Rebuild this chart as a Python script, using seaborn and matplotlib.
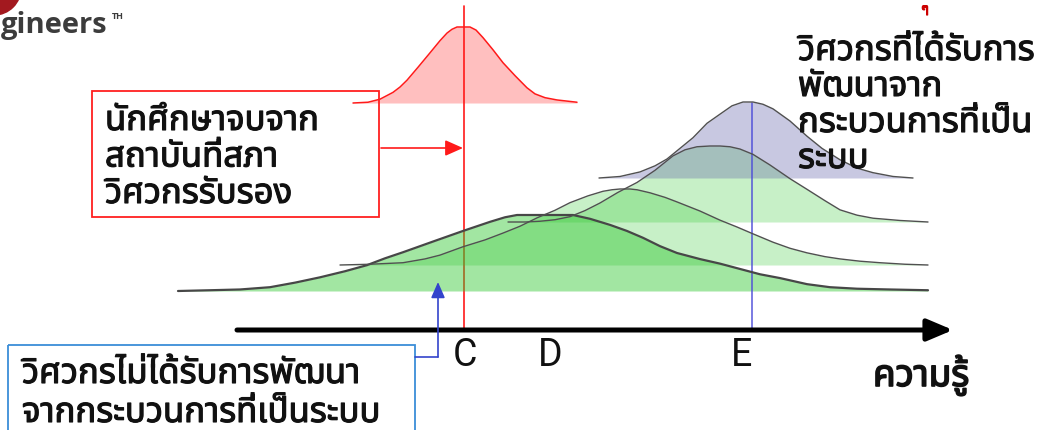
"""
Knowledge distribution diagram: graduates vs. engineers with / without
systematic development, drawn as stacked bell curves over a knowledge axis.
"""

import matplotlib
matplotlib.use("Agg")
import matplotlib.pyplot as plt
import matplotlib.patheffects as pe
import seaborn as sns
from matplotlib import font_manager
from matplotlib.ft2font import FT2Font
from matplotlib.patches import Rectangle, Circle

# ---------------------------------------------------------------- data
# knowledge position (x) and relative density (0..1)
grad_x = [353, 368, 380, 393, 400, 407, 418, 430, 440, 447, 452, 457, 463, 470,
          476, 483, 493, 503, 515, 527, 535, 545, 557, 577]
grad_density = [0.0, 0.01, 0.05, 0.14, 0.21, 0.30, 0.47, 0.66, 0.82, 0.92, 0.97,
                1.0, 1.0, 1.0, 0.96, 0.86, 0.70, 0.53, 0.36, 0.20, 0.12, 0.07,
                0.04, 0.01]

eng_a_x = [178, 210, 240, 270, 295, 320, 345, 367, 385, 403, 435, 463, 490, 505,
           517, 530, 545, 560, 573, 590, 610, 627, 643, 660, 677, 700, 720, 740,
           760, 780, 807, 830, 857, 890, 928]
eng_a_density = [0.0, 0.01, 0.02, 0.05, 0.11, 0.18, 0.26, 0.34, 0.43, 0.51, 0.66,
                 0.79, 0.91, 0.97, 1.0, 1.0, 1.0, 1.0, 1.0, 0.95, 0.87, 0.79,
                 0.70, 0.59, 0.50, 0.42, 0.36, 0.29, 0.22, 0.17, 0.09, 0.05,
                 0.03, 0.02, 0.01]

eng_b_x = [340, 370, 403, 425, 440, 463, 485, 503, 520, 537, 555, 570, 588, 603,
           612, 620, 630, 637, 650, 665, 677, 700, 720, 737, 753, 773, 790, 807,
           825, 840, 860, 880, 905, 928]
eng_b_density = [0.0, 0.01, 0.03, 0.08, 0.13, 0.24, 0.33, 0.42, 0.51, 0.62, 0.72,
                 0.82, 0.91, 0.97, 0.99, 1.0, 1.0, 0.99, 0.95, 0.89, 0.83, 0.71,
                 0.59, 0.50, 0.41, 0.30, 0.22, 0.16, 0.11, 0.08, 0.05, 0.03,
                 0.01, 0.0]

eng_c_x = [508, 525, 540, 555, 570, 585, 600, 618, 637, 655, 673, 685, 697, 710,
           720, 730, 740, 753, 770, 790, 807, 825, 840, 857, 873, 900, 928]
eng_c_density = [0.0, 0.0, 0.01, 0.03, 0.07, 0.15, 0.25, 0.39, 0.52, 0.68, 0.87,
                 0.95, 0.99, 1.0, 1.0, 0.99, 0.96, 0.89, 0.75, 0.57, 0.43, 0.28,
                 0.16, 0.09, 0.05, 0.02, 0.0]

eng_d_x = [599, 620, 640, 655, 667, 680, 693, 707, 720, 732, 743, 753, 763, 773,
           790, 807, 822, 840, 857, 873, 893, 913]
eng_d_density = [0.0, 0.02, 0.08, 0.16, 0.25, 0.39, 0.53, 0.72, 0.84, 0.95, 1.0,
                 1.0, 0.97, 0.91, 0.75, 0.55, 0.39, 0.24, 0.13, 0.07, 0.02, 0.0]

marker_labels = ["C", "D", "E"]
marker_x = [465, 550, 742]

axis_label = "ความรู้"
grad_text = ["นักศึกษาจบจาก", "สถาบันที่สภา", "วิศวกรรับรอง"]
developed_text = ["วิศวกรที่ได้รับการ", "พัฒนาจาก", "กระบวนการที่เป็น", "ระบบ"]
undeveloped_text = ["วิศวกรไม่ได้รับการพัฒนา", "จากกระบวนการที่เป็นระบบ"]


def pick_thai_font() -> str:
    """Return the first installed family that has Thai glyphs."""
    preferred = ["Noto Sans Thai", "Noto Sans Thai UI", "Loma", "Garuda",
                 "Sarabun", "Tahoma", "Leelawadee UI", "Norasi"]
    have = {}
    for f in font_manager.fontManager.ttflist:
        have.setdefault(f.name, f.fname)
    for name in preferred + sorted(have):
        path = have.get(name)
        if path is None:
            continue
        try:
            if 0x0E01 in FT2Font(path).get_charmap():
                return name
        except Exception:
            continue
    return "DejaVu Sans"


sns.set_theme(style="white")
thai_font = pick_thai_font()
plt.rcParams["font.family"] = [thai_font, "DejaVu Sans"]

fig = plt.figure(figsize=(10.42, 4.30), dpi=100)
ax = fig.add_axes([0, 0, 1, 1])
ax.set_xlim(0, 1042)
ax.set_ylim(430, 0)
ax.axis("off")

PEAK = 76  # px height of every bell
heavy = [pe.withStroke(linewidth=0.8, foreground="#111111")]
heavier = [pe.withStroke(linewidth=1.2, foreground="#111111")]


def ridge(xs, dens, base, fill, alpha, edge, lw, z):
    ys = [base - d * PEAK for d in dens]
    ax.fill_between(xs, ys, base, color=fill, alpha=alpha, lw=0, zorder=z)
    sns.lineplot(x=xs, y=ys, ax=ax, color=edge, lw=lw, zorder=z + 0.5,
                 sort=False, estimator=None, solid_joinstyle="round")


# graduates (red)
ridge(grad_x, grad_density, 103, "#ffbfbf", 1.0, "#ff1a1a", 1.1, 1)
ax.plot([464, 464], [6, 330], color="#ff1a1a", lw=1.2, zorder=1.7)

# engineers (green ridges + lavender top)
ridge(eng_a_x, eng_a_density, 291, "#32c832", 0.45, "#474747", 1.6, 2)
ridge(eng_b_x, eng_b_density, 265, "#32c832", 0.27, "#505050", 1.0, 2.1)
ridge(eng_c_x, eng_c_density, 222, "#32c832", 0.27, "#505050", 1.0, 2.2)
ridge(eng_d_x, eng_d_density, 178, "#6464aa", 0.35, "#505050", 1.0, 2.3)
ax.plot([752, 752], [103, 330], color="#4a4ad8", lw=1.2, alpha=0.85, zorder=2.4)

# knowledge axis
ax.annotate("", xy=(953, 330), xytext=(237, 330),
            arrowprops=dict(arrowstyle="-|>,head_length=1.3,head_width=0.55",
                            lw=3.6, color="black", shrinkA=0, shrinkB=0),
            zorder=4)
for lab, x in zip(marker_labels, marker_x):
    ax.text(x, 366, lab, ha="center", va="baseline", fontsize=27,
            family=["Roboto", "DejaVu Sans"], color="#111111", zorder=5)
ax.text(873, 386, axis_label, ha="left", va="baseline", fontsize=26.5,
        color="#111111", path_effects=heavier, zorder=5)

# graduate box + arrow
ax.add_patch(Rectangle((92, 91), 287, 126, fill=False, ec="#ff2020", lw=1.3, zorder=5))
for i, line in enumerate(grad_text):
    ax.text(105, 130 + i * 36.5, line, ha="left", va="baseline", fontsize=25,
            color="#111111", path_effects=heavy, zorder=5)
ax.annotate("", xy=(463, 148), xytext=(381, 148),
            arrowprops=dict(arrowstyle="-|>,head_length=0.9,head_width=0.4",
                            lw=1.2, color="#ff1a1a", shrinkA=0, shrinkB=0),
            zorder=5)

# developed engineers note
for i, line in enumerate(developed_text):
    ax.text(798, 60 + i * 36, line, ha="left", va="baseline", fontsize=25,
            color="#111111", path_effects=heavy, zorder=5)

# undeveloped engineers box + elbow arrow
ax.add_patch(Rectangle((8, 345), 407, 100, fill=False, ec="#3b8ed8", lw=1.3, zorder=5))
for i, line in enumerate(undeveloped_text):
    ax.text(22, 383 + i * 39, line, ha="left", va="baseline", fontsize=25,
            color="#111111", path_effects=heavy, zorder=5)
ax.plot([415, 438], [357, 357], color="#3344cc", lw=1.2, zorder=5)
ax.annotate("", xy=(438, 282), xytext=(438, 357),
            arrowprops=dict(arrowstyle="-|>,head_length=0.8,head_width=0.35",
                            lw=1.2, color="#3344cc", shrinkA=0, shrinkB=0),
            zorder=5)

# logo fragment top-left
ax.add_patch(Circle((-6, -12), 27, color="#a3191f", zorder=5))
ax.text(1, 33, "gineers", ha="left", va="baseline", fontsize=21, fontweight="bold",
        family=["Open Sans", "DejaVu Sans"], color="#3c3c3c", zorder=5)
ax.text(112, 19, "TH", ha="left", va="baseline", fontsize=6.5, fontweight="bold",
        family=["Open Sans", "DejaVu Sans"], color="#3c3c3c", zorder=5)
ax.text(925, 9, "ๆ", ha="center", va="center", fontsize=9, color="#cc0000",
        path_effects=[pe.withStroke(linewidth=0.8, foreground="#cc0000")], zorder=5)

fig.savefig("out.png", dpi=100)
